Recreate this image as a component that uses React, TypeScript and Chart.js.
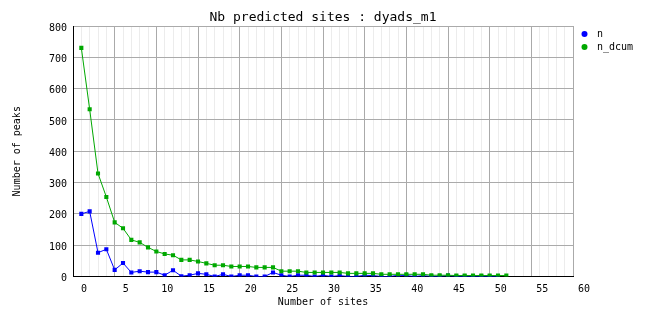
import React, { useEffect, useRef } from "react";
import { Chart, registerables } from "chart.js";

Chart.register(...registerables);

const chartTitle = "Nb predicted sites : dyads_m1";
const xAxisTitle = "Number of sites";
const yAxisTitle = "Number of peaks";

const sitePositions = [
  1, 2, 3, 4, 5, 6, 7, 8, 9, 10, 11, 12, 13, 14, 15, 16, 17, 18, 19, 20,
  21, 22, 23, 24, 25, 26, 27, 28, 29, 30, 31, 32, 33, 34, 35, 36, 37, 38, 39, 40,
  41, 42, 43, 44, 45, 46, 47, 48, 49, 50, 51, 52,
];

const nValues = [
  200, 208, 76, 87, 21, 43, 13, 17, 14, 14, 4, 20, 1, 4, 10, 7, 0, 7, 0, 4,
  4, 0, 0, 13, 4, 0, 4, 4, 0, 4, 0, 3, 0, 0, 4, 3, 0, 0, 4, 3,
  0, 3, 0, 0, 3, 0, 0, 0, 0, 0, 0,
];

const nDcumValues = [
  730, 534, 329, 254, 173, 154, 117, 109, 93, 80, 72, 68, 53, 53, 48, 42, 36, 36, 32, 32,
  32, 29, 29, 29, 17, 17, 17, 13, 13, 13, 13, 13, 10, 10, 10, 10, 7, 7, 7, 7,
  7, 7, 4, 4, 4, 3, 3, 3, 3, 3, 3, 3,
];

const seriesLabels = ["n", "n_dcum"];
const seriesColors = ["#0000ff", "#00a800"];

const xMajorTicks = [0, 5, 10, 15, 20, 25, 30, 35, 40, 45, 50, 55, 60];
const yTicks = [0, 100, 200, 300, 400, 500, 600, 700, 800];

const FONT = "'DejaVu Sans Mono', 'Liberation Mono', monospace";

const legendPlugin = {
  id: "sideLegend",
  afterDraw(chart: any) {
    const ctx = chart.ctx;
    const area = chart.chartArea;
    ctx.save();
    ctx.font = `10px ${FONT}`;
    ctx.textBaseline = "middle";
    ctx.textAlign = "left";
    chart.data.datasets.forEach((ds: any, i: number) => {
      const y = area.top + 8 + i * 13;
      const x = area.right + 11.5;
      ctx.fillStyle = ds.borderColor;
      ctx.beginPath();
      ctx.arc(x, y, 3, 0, Math.PI * 2);
      ctx.fill();
      ctx.fillStyle = "#000";
      ctx.fillText(ds.label, x + 12.5, y + 0.5);
    });
    ctx.restore();
  },
};

export default function App() {
  const ref = useRef<HTMLCanvasElement | null>(null);

  useEffect(() => {
    if (!ref.current) return;
    const mk = (vals: number[]) => vals.map((v, i) => ({ x: sitePositions[i], y: v }));
    const chart = new Chart(ref.current, {
      type: "line",
      data: {
        datasets: [
          {
            label: seriesLabels[0],
            data: mk(nValues),
            borderColor: seriesColors[0],
            backgroundColor: seriesColors[0],
            borderWidth: 1,
            pointStyle: "rect",
            pointRadius: 2.9,
            pointBorderWidth: 0,
            tension: 0,
            order: 1,
          },
          {
            label: seriesLabels[1],
            data: mk(nDcumValues),
            borderColor: seriesColors[1],
            backgroundColor: seriesColors[1],
            borderWidth: 1,
            pointStyle: "rect",
            pointRadius: 2.9,
            pointBorderWidth: 0,
            tension: 0,
            order: 0,
          },
        ],
      },
      plugins: [legendPlugin],
      options: {
        responsive: false,
        animation: false,
        events: [],
        layout: { padding: { left: 0, right: 81, top: 0, bottom: 0 } },
        font: { family: FONT },
        plugins: {
          legend: { display: false },
          tooltip: { enabled: false },
          title: {
            display: true,
            text: chartTitle,
            fullSize: false,
            color: "#000",
            font: { family: FONT, size: 13, weight: "normal" },
            padding: { top: 2, bottom: 0.4 },
          },
        },
        scales: {
          x: {
            type: "linear",
            min: 0,
            max: 60,
            afterBuildTicks: (scale: any) => {
              const t = [];
              for (let v = scale.min; v <= scale.max; v++) t.push({ value: v });
              scale.ticks = t;
            },
            afterFit: (scale: any) => {
              scale.height = 43.5;
            },
            ticks: {
              autoSkip: false,
              maxRotation: 0,
              minRotation: 0,
              padding: 7,
              labelOffset: 11,
              color: "#000",
              font: { family: FONT, size: 10 },
              callback: (v: any) => (xMajorTicks.includes(Number(v)) ? String(v) : ""),
            },
            grid: {
              drawTicks: false,
              lineWidth: 1,
              color: (c: any) =>
                c.tick && xMajorTicks.includes(c.tick.value) ? "#aaaaaa" : "#ececec",
            },
            border: { color: "#000", width: 1 },
            title: {
              display: true,
              text: xAxisTitle,
              color: "#000",
              font: { family: FONT, size: 10 },
              padding: { top: 0, bottom: 11.3 },
            },
          },
          y: {
            type: "linear",
            min: 0,
            max: 800,
            afterBuildTicks: (scale: any) => {
              scale.ticks = yTicks.map((v) => ({ value: v }));
            },
            afterFit: (scale: any) => {
              scale.width = 65;
            },
            ticks: {
              padding: 6,
              labelOffset: 2,
              color: "#000",
              font: { family: FONT, size: 10 },
            },
            grid: {
              drawTicks: false,
              lineWidth: 1,
              color: "#aaaaaa",
            },
            border: { color: "#000", width: 1 },
            title: {
              display: true,
              text: yAxisTitle,
              color: "#000",
              font: { family: FONT, size: 10 },
              padding: { top: 3, bottom: 0 },
            },
          },
        },
      },
    } as any);
    return () => chart.destroy();
  }, []);

  return (
    <canvas
      ref={ref}
      width={646}
      height={312}
      style={{ display: "block", width: 646, height: 312 }}
    />
  );
}
